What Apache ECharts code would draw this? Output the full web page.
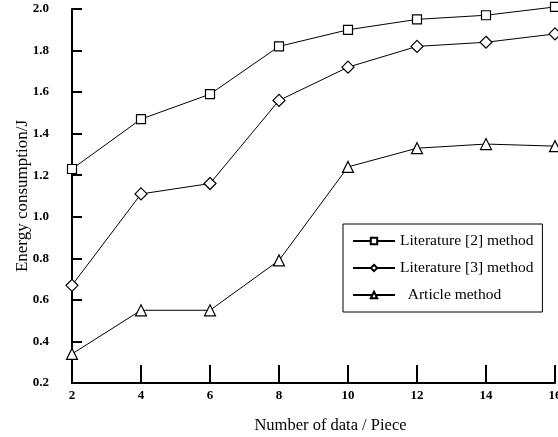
<!DOCTYPE html>
<html><head><meta charset="utf-8">
<script src="https://cdn.jsdelivr.net/npm/echarts@6/dist/echarts.min.js"></script>
<style>html,body{margin:0;padding:0;background:#fff}#c{width:558px;height:437px}</style>
</head><body><div id="c"></div>
<script>
const xValues = [2, 4, 6, 8, 10, 12, 14, 16];
const lit2 = [1.23, 1.47, 1.59, 1.82, 1.90, 1.95, 1.97, 2.01];
const lit3 = [0.67, 1.11, 1.16, 1.56, 1.72, 1.82, 1.84, 1.88];
const article = [0.34, 0.55, 0.55, 0.79, 1.24, 1.33, 1.35, 1.34];
const seriesNames = ['Literature [2] method', 'Literature [3] method', 'Article method'];

const F = '"Liberation Serif","Times New Roman",serif';
const pair = arr => xValues.map((x, i) => [x, arr[i]]);
const mk = (name, data, sym, size) => ({
  name, type: 'line', data: pair(data), symbol: sym, symbolSize: size, clip: false,
  lineStyle: { color: '#000', width: 1 },
  itemStyle: { color: '#fff', borderColor: '#000', borderWidth: 1.2 },
  emphasis: { disabled: true }, animation: false
});
const chart = echarts.init(document.getElementById('c'));
chart.setOption({
  animation: false,
  grid: { left: 72, right: 3, top: 9, bottom: 54, containLabel: false, outerBoundsMode: 'none' },
  legend: {
    orient: 'vertical', left: 343, top: 224,
    data: seriesNames,
    backgroundColor: '#fff', borderColor: '#000', borderWidth: 1,
    padding: [9, 9, 9, 9], itemGap: 11, itemWidth: 42, itemHeight: 8,
    textStyle: { fontFamily: F, fontSize: 15.5, lineHeight: 16, color: '#000' },
    formatter: n => n === 'Article method' ? '  ' + n : n,
    selectedMode: false
  },
  xAxis: {
    type: 'value', min: 2, max: 16, interval: 2,
    name: 'Number of data / Piece', nameLocation: 'middle', nameGap: 34,
    nameTextStyle: { fontFamily: F, fontSize: 16.5, color: '#000', padding: [0, 0, 0, 34] },
    axisLine: { lineStyle: { color: '#000', width: 2 } },
    axisTick: { inside: true, length: 18, lineStyle: { color: '#000', width: 2 } },
    axisLabel: { fontFamily: F, fontSize: 13, fontWeight: 'bold', color: '#000', margin: 6 },
    splitLine: { show: false }
  },
  yAxis: {
    type: 'value', min: 0.2, max: 2.0, interval: 0.2,
    name: 'Energy consumption/J', nameLocation: 'middle', nameGap: 41, nameMoveOverlap: false,
    nameTextStyle: { fontFamily: F, fontSize: 17, color: '#000' },
    axisLine: { show: true, lineStyle: { color: '#000', width: 2 } },
    axisTick: { show: true, inside: true, length: 10, lineStyle: { color: '#000', width: 2 } },
    axisLabel: { fontFamily: F, fontSize: 13, fontWeight: 'bold', color: '#000', margin: 23,
      formatter: v => v.toFixed(1) },
    splitLine: { show: false }
  },
  series: [
    mk(seriesNames[0], lit2, 'rect', 9),
    mk(seriesNames[1], lit3, 'diamond', 12),
    mk(seriesNames[2], article, 'triangle', 11)
  ]
});
</script></body></html>
